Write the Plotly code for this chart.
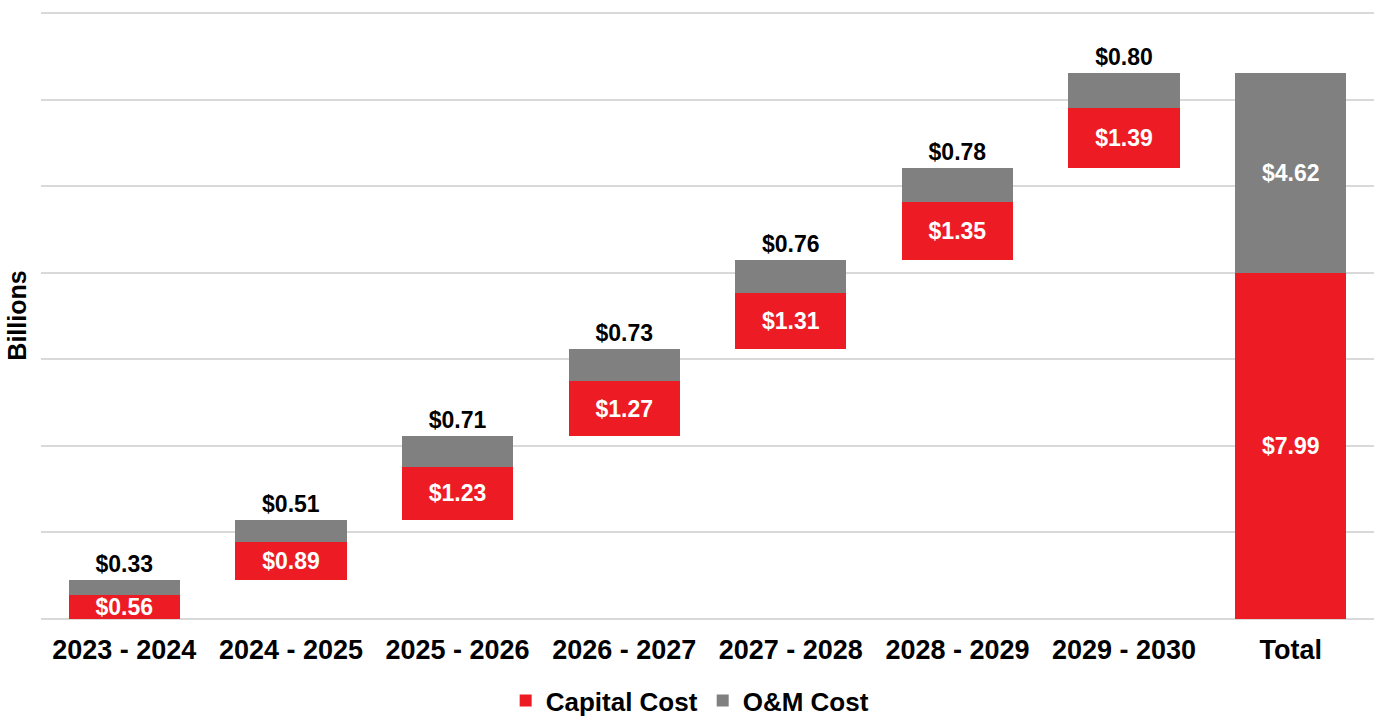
import plotly.graph_objects as go
import numpy as np

categories = ["2023 - 2024", "2024 - 2025", "2025 - 2026", "2026 - 2027",
              "2027 - 2028", "2028 - 2029", "2029 - 2030", "Total"]
capital = [0.56, 0.89, 1.23, 1.27, 1.31, 1.35, 1.39, 7.99]
om = [0.33, 0.51, 0.71, 0.73, 0.76, 0.78, 0.80, 4.62]

# waterfall base: cumulative of previous periods, total starts at 0
step = [c + o for c, o in zip(capital[:-1], om[:-1])]
base = list(np.concatenate([[0], np.cumsum(step)[:-1]])) + [0]

RED = "#ED1C24"
GRAY = "#808080"
FONT = "Liberation Sans, Arial, sans-serif"

fig = go.Figure()
fig.add_trace(go.Bar(x=categories, y=base,
                     marker=dict(color="rgba(0,0,0,0)", line=dict(width=0)),
                     showlegend=False, hoverinfo="skip"))
fig.add_trace(go.Bar(x=categories, y=capital, name="<b>Capital Cost</b>",
                     marker=dict(color=RED, line=dict(width=0)),
                     text=[f"<b>${v:.2f}</b>" for v in capital],
                     textposition="inside", insidetextanchor="middle",
                     insidetextfont=dict(color="white", size=23, family=FONT),
                     constraintext="none"))
fig.add_trace(go.Bar(x=categories, y=om, name="<b>O&M Cost</b>",
                     marker=dict(color=GRAY, line=dict(width=0)),
                     text=[f"<b>${v:.2f}</b>" for v in om],
                     textposition=["outside"] * 7 + ["inside"],
                     insidetextanchor="middle",
                     insidetextfont=dict(color="white", size=23, family=FONT),
                     outsidetextfont=dict(color="black", size=23, family=FONT),
                     constraintext="none", cliponaxis=False))

fig.update_layout(
    barmode="stack",
    bargap=0.333,
    width=1374, height=717,
    margin=dict(l=41, r=0, t=12, b=98),
    plot_bgcolor="white", paper_bgcolor="white",
    font=dict(family=FONT, color="black"),
    showlegend=True,
    legend=dict(orientation="h", x=0.487, xanchor="center",
                yref="container", y=0.023, yanchor="middle",
                font=dict(size=26, family=FONT), traceorder="normal",
                itemwidth=30),
    xaxis=dict(tickfont=dict(size=27, family=FONT), showgrid=False,
               showline=False, ticks="", tickprefix="<b>", ticksuffix="</b>",
               ticklabelstandoff=12),
    yaxis=dict(range=[0, 14.03], tickvals=[0, 2, 4, 6, 8, 10, 12, 14],
               showticklabels=False,
               gridcolor="#D9D9D9", gridwidth=2, zeroline=True,
               zerolinecolor="#D9D9D9", zerolinewidth=2,
               title=dict(text="<b>Billions</b>", font=dict(size=25, family=FONT),
                          standoff=6),
               automargin=False),
)

fig.write_html("out.html", config={"displayModeBar": False})
with open("out.html", "r", encoding="utf-8") as f:
    html = f.read()
html = html.replace("<head>", "<head><style>html,body{margin:0;padding:0;overflow:hidden;}</style>", 1)
with open("out.html", "w", encoding="utf-8") as f:
    f.write(html)
